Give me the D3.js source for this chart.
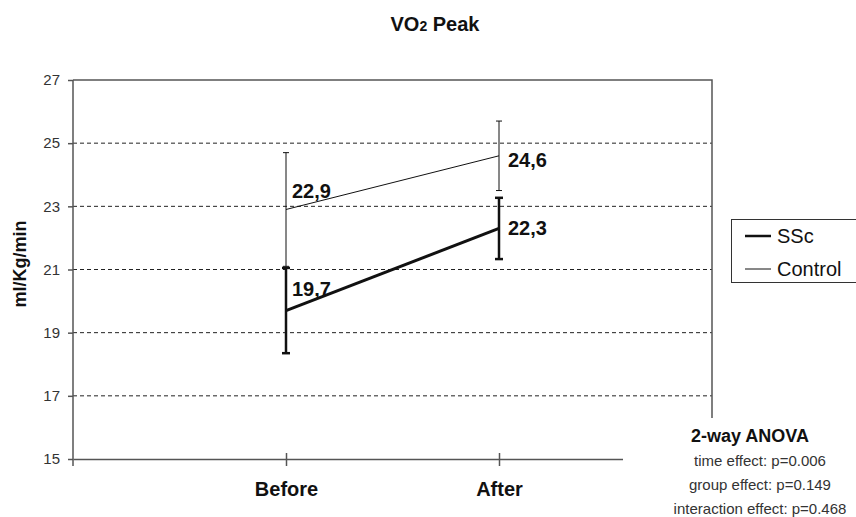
<!DOCTYPE html>
<html>
<head>
<meta charset="utf-8">
<script src="https://cdn.jsdelivr.net/npm/d3@7/dist/d3.min.js"></script>
<style>
  body { margin: 0; background: #fff; }
  text { font-family: "Liberation Sans", Arial, sans-serif; }
</style>
</head>
<body>
<div id="chart"></div>
<script>
var categories = ["Before", "After"];
var sscMean = [19.7, 22.3];
var sscSD = [1.35, 0.97];
var controlMean = [22.9, 24.6];
var controlSD = [1.8, 1.1];
var yTicks = [15, 17, 19, 21, 23, 25, 27];
var sscLabels = ["19,7", "22,3"];
var controlLabels = ["22,9", "24,6"];
var anovaLines = ["time effect: p=0.006", "group effect: p=0.149", "interaction effect: p=0.468"];

var width = 856, height = 517;
var plot = {left: 73, right: 712, top: 80, bottom: 459};

var svg = d3.select("#chart").append("svg")
  .attr("width", width)
  .attr("height", height);

var xScale = d3.scalePoint()
  .domain(categories)
  .range([plot.left, plot.right])
  .padding(1);

var yScale = d3.scaleLinear()
  .domain([15, 27])
  .range([plot.bottom, plot.top]);

// title
var title = svg.append("text")
  .attr("x", 435)
  .attr("y", 31)
  .attr("text-anchor", "middle")
  .style("font-size", "20px")
  .style("font-weight", "bold")
  .style("fill", "#111");
title.append("tspan").text("VO");
title.append("tspan").style("font-size", "14px").text("2");
title.append("tspan").text(" Peak");

// grid lines
svg.append("g").selectAll("line")
  .data(yTicks.slice(1, -1))
  .enter()
  .append("line")
  .attr("x1", plot.left)
  .attr("x2", plot.right)
  .attr("y1", function(d) { return yScale(d); })
  .attr("y2", function(d) { return yScale(d); })
  .attr("stroke", "#222")
  .attr("stroke-width", 1)
  .attr("stroke-dasharray", "4,3");

// top and right border
svg.append("path")
  .attr("d", "M" + plot.left + "," + plot.top + "H" + plot.right + "V" + plot.bottom)
  .attr("fill", "none")
  .attr("stroke", "#555")
  .attr("stroke-width", 1.5);

// y axis
var yAxis = d3.axisLeft(yScale)
  .tickValues(yTicks)
  .tickSizeInner(5)
  .tickSizeOuter(0)
  .tickPadding(8);

var yAxisGroup = svg.append("g")
  .attr("transform", "translate(" + plot.left + ",0)")
  .call(yAxis);
yAxisGroup.select(".domain").remove();
yAxisGroup.append("line")
  .attr("y1", plot.top).attr("y2", plot.bottom + 7)
  .attr("stroke", "#555").attr("stroke-width", 1.5);
yAxisGroup.selectAll(".tick line").attr("stroke", "#555").attr("stroke-width", 1.5);
yAxisGroup.selectAll(".tick text")
  .style("font-size", "15px")
  .style("fill", "#333")
  .style("font-family", "Liberation Sans, Arial, sans-serif");

// x axis
var xAxis = d3.axisBottom(xScale)
  .tickSizeInner(7)
  .tickSizeOuter(0)
  .tickPadding(16);

var xAxisGroup = svg.append("g")
  .attr("transform", "translate(0," + plot.bottom + ")")
  .call(xAxis);
xAxisGroup.select(".domain")
  .attr("stroke", "#555").attr("stroke-width", 1.5);
xAxisGroup.selectAll(".tick line")
  .attr("y1", -6)
  .attr("stroke", "#555").attr("stroke-width", 1.5);
xAxisGroup.selectAll(".tick text")
  .style("font-size", "20px")
  .style("font-weight", "bold")
  .style("fill", "#111")
  .style("font-family", "Liberation Sans, Arial, sans-serif");

// y axis title
svg.append("text")
  .attr("transform", "translate(26,264) rotate(-90)")
  .attr("text-anchor", "middle")
  .style("font-size", "18px")
  .style("font-weight", "bold")
  .style("fill", "#111")
  .text("ml/Kg/min");

var series = [
  {name: "SSc", mean: sscMean, sd: sscSD, labels: sscLabels, width: 3, capWidth: 2.5, cap: 4, labelDy: [-22, 0]},
  {name: "Control", mean: controlMean, sd: controlSD, labels: controlLabels, width: 1, capWidth: 1, cap: 3, labelDy: [-18, 4]}
];
var labelDx = [6, 9];

var line = d3.line()
  .x(function(d, i) { return xScale(categories[i]); })
  .y(function(d) { return yScale(d); });

series.forEach(function(s) {
  var g = svg.append("g");

  // error bars
  s.mean.forEach(function(m, i) {
    var x = xScale(categories[i]);
    var yTop = yScale(m + s.sd[i]);
    var yBot = yScale(m - s.sd[i]);
    g.append("line")
      .attr("x1", x).attr("x2", x)
      .attr("y1", yTop).attr("y2", yBot)
      .attr("stroke", "#111").attr("stroke-width", s.capWidth);
    [yTop, yBot].forEach(function(y) {
      g.append("line")
        .attr("x1", x - s.cap).attr("x2", x + s.cap)
        .attr("y1", y).attr("y2", y)
        .attr("stroke", "#111").attr("stroke-width", s.capWidth);
    });
  });

  g.append("path")
    .datum(s.mean)
    .attr("d", line)
    .attr("fill", "none")
    .attr("stroke", "#111")
    .attr("stroke-width", s.width);

  g.selectAll("text")
    .data(s.mean)
    .enter()
    .append("text")
    .attr("x", function(d, i) { return xScale(categories[i]) + labelDx[i]; })
    .attr("y", function(d, i) { return yScale(d) + s.labelDy[i]; })
    .attr("dy", "0.35em")
    .style("font-size", "20px")
    .style("font-weight", "bold")
    .style("fill", "#111")
    .text(function(d, i) { return s.labels[i]; });
});

// legend
var legend = svg.append("g");
legend.append("rect")
  .attr("x", 731.5).attr("y", 219.5)
  .attr("width", 140).attr("height", 63)
  .attr("fill", "#fff")
  .attr("stroke", "#333")
  .attr("stroke-width", 1);
series.forEach(function(s, i) {
  var y = 236 + i * 33;
  legend.append("line")
    .attr("x1", 745).attr("x2", 771)
    .attr("y1", y).attr("y2", y)
    .attr("stroke", "#111")
    .attr("stroke-width", s.width === 3 ? 2.5 : 1);
  legend.append("text")
    .attr("x", 777).attr("y", y)
    .attr("dy", "0.35em")
    .style("font-size", "20px")
    .style("fill", "#111")
    .text(s.name);
});

// ANOVA note box
var note = svg.append("g");
note.append("rect")
  .attr("x", 623).attr("y", 418)
  .attr("width", width - 623).attr("height", height - 418)
  .attr("fill", "#fff");
note.append("text")
  .attr("x", 750).attr("y", 436)
  .attr("dy", "0.35em")
  .attr("text-anchor", "middle")
  .style("font-size", "18px")
  .style("font-weight", "bold")
  .style("fill", "#111")
  .text("2-way ANOVA");
note.selectAll("text.line")
  .data(anovaLines)
  .enter()
  .append("text")
  .attr("class", "line")
  .attr("x", 760)
  .attr("y", function(d, i) { return 461 + i * 24; })
  .attr("dy", "0.35em")
  .attr("text-anchor", "middle")
  .style("font-size", "15px")
  .style("fill", "#333")
  .text(function(d) { return d; });
</script>
</body>
</html>
